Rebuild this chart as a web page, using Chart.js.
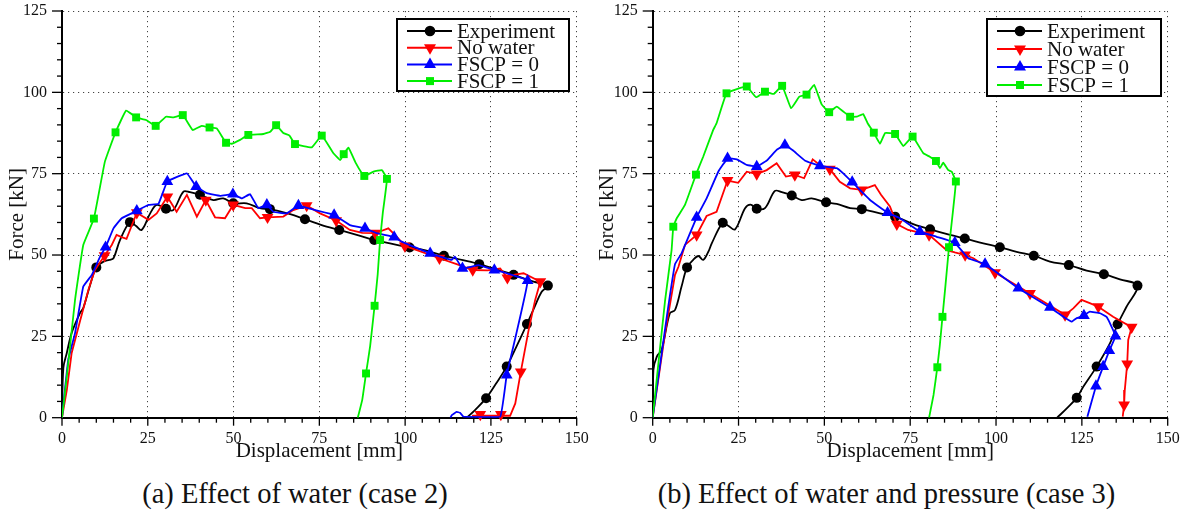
<!DOCTYPE html>
<html>
<head>
<meta charset="utf-8">
<script src="https://cdn.jsdelivr.net/npm/chart.js@4/dist/chart.umd.min.js"></script>
<style>
  html, body { margin: 0; padding: 0; background: #fff; }
  #wrap { position: relative; width: 1183px; height: 512px; overflow: hidden; }
  .pane { position: absolute; top: 0; }
  .cap { position: absolute; top: 480px; line-height: 28px; font-size: 28.5px; text-align: center;
         font-family: "Liberation Serif", "DejaVu Serif", serif; color: #111; white-space: nowrap; }
</style>
</head>
<body>
<div id="wrap">
  <div class="pane" style="left:0"><canvas id="chartA" width="590" height="470"></canvas></div>
  <div class="pane" style="left:590px"><canvas id="chartB" width="593" height="470"></canvas></div>
  <div class="cap" style="left:0;width:590px">(a) Effect of water (case 2)</div>
  <div class="cap" style="left:590px;width:593px">(b) Effect of water and pressure (case 3)</div>
</div>
<script>
// axis ticks
const xTicks = [0, 25, 50, 75, 100, 125, 150];
const yTicks = [0, 25, 50, 75, 100, 125];

const seriesNames = ['Experiment', 'No water', 'FSCP = 0', 'FSCP = 1'];

// ---- case 2 (left) : [displacement mm, force kN]
const expA = [[0,0],[0.4,15.3],[1.4,19.9],[2.8,26],[5.2,32.1],[6.2,33.7],[8.2,40.8],[10,46.2],[12.2,48],[13.8,48.5],[15,49],[16.9,54.6],[19.8,60.1],[21.5,59],[23.2,57.7],[25.7,62.8],[27.6,65.4],[30.3,64.2],[32.4,63.8],[35.4,69.5],[37.3,69.3],[40.2,68.5],[44.1,66.9],[47,67.4],[49.9,65.9],[53.8,65.9],[57.7,64.4],[60.6,64.1],[66.5,62.6],[70.8,61],[75.7,59.2],[80.8,57.7],[86.9,55.9],[91,54.6],[95.6,53.6],[101.3,52.3],[105.3,51.6],[111.3,49.8],[116.5,48.5],[121.6,47.2],[126.5,45.6],[131.6,43.9],[137.4,41.8],[141.6,40.6],[139.8,38.7],[137.5,33.5],[135.5,28.8],[132.5,22],[129.6,15.7],[126.5,10.5],[123.6,6],[120.5,2.5],[118,0]];
const expAMarks = [[10,46.2],[19.8,60.1],[30.3,64.2],[40.2,68.5],[49.9,65.9],[60.6,64.1],[70.8,61],[80.8,57.7],[91,54.6],[101.3,52.3],[111.3,49.8],[121.6,47.2],[131.6,43.9],[141.6,40.6],[135.5,28.8],[129.6,15.7],[123.6,6]];

const noWaterA = [[0,0],[1.4,8.5],[2.8,19.8],[5.2,29.5],[7.7,39.3],[9.6,45.4],[12.4,49.8],[14.5,53.1],[15.9,56.2],[17.4,55.5],[18.8,55],[21.8,63],[25.2,60.8],[27.6,62.8],[30.7,67.9],[33.4,63.3],[36.4,68.5],[39.3,61.8],[41.9,66.9],[44.6,61.6],[47.5,61.3],[49.9,65.4],[53.4,64.4],[55.3,64.4],[57.7,61.3],[59.9,61.6],[64.5,61.8],[67.4,63.8],[71.3,65.2],[75.2,62.8],[79.9,60.6],[83.9,57.7],[87.5,56.8],[91.3,56.7],[95.1,58.2],[97.6,55.6],[99.9,52.8],[103.4,51.5],[110,49],[115,47.2],[119.7,45.4],[124,45.3],[127.7,45.9],[129.8,43],[132,44],[134.5,44.4],[139.4,41.8],[137.9,36.2],[136,27],[133.7,14.1],[132.1,4.4],[130.6,0.6],[127.9,0.6],[121.9,0.6],[119.5,0.6]];
const noWaterAMarks = [[12.4,49.8],[21.8,63],[30.7,67.9],[41.9,66.9],[49.9,65.4],[59.9,61.6],[71.3,65.2],[79.9,60.6],[91.3,56.7],[99.9,52.8],[110,49],[119.7,45.4],[129.8,43],[139.4,41.8],[133.7,14.1],[127.9,1],[121.9,1]];

const fscp0A = [[0,0],[1.8,17.7],[3.8,26],[6.2,40.3],[8.7,43.9],[11.1,49.5],[12.7,52.4],[15,58.2],[17.4,61.3],[21.8,63.6],[25.2,65.4],[28.1,65.7],[30.7,72.6],[36.4,75.1],[39.1,71],[42.2,69],[46.1,68.2],[49.8,68.7],[52.4,67.4],[54.8,68.7],[57.2,64.4],[59.7,65.4],[61.6,63.3],[65.5,62.8],[68.9,65.2],[73.8,63.8],[79.3,62.3],[83.9,59.2],[88.3,58.2],[91.7,56.7],[96.8,55.5],[99,54.1],[102.4,52.6],[107.3,50.5],[113.6,48.5],[114.5,49.5],[116.7,45.9],[121.4,46.9],[126,45.4],[129.6,44.4],[135.7,42.1],[129.6,13.1],[127.7,0.3],[117,0.3],[116,1.5],[115,1.8],[113.6,0.8],[113.2,0]];
const fscp0AMarks = [[12.7,52.4],[21.8,63.6],[30.7,72.6],[39.1,71],[49.8,68.7],[59.7,65.4],[68.9,65.2],[79.3,62.3],[88.3,58.2],[96.8,55.5],[107.3,50.5],[116.7,45.9],[126,45.4],[135.7,42.1],[129.6,13.1]];

const fscp1A = [[0,0],[1.4,12.6],[3.8,36.2],[6.2,53.1],[9.3,61.2],[12.5,78.7],[15.6,87.7],[18.7,94.4],[21.6,92.3],[24.5,91.5],[27.3,89.7],[30.3,92.5],[32.5,92.3],[35.2,93],[38.1,88.4],[40.7,89.7],[43,89.2],[45.1,88.9],[47.8,84.5],[49.5,84.2],[51.9,85.4],[54.3,86.9],[58.7,87.2],[60.7,87.9],[62.4,89.9],[64.5,87.5],[66.3,86.7],[67.9,84.1],[72.8,83.1],[75.7,86.7],[79.1,81.3],[81.1,79.2],[82.1,81],[83.5,83],[85.6,78.3],[87.4,75.1],[88.1,74.3],[90.8,75.6],[93.2,76.1],[94.7,73.4],[93.5,63],[92.7,54.6],[92,44],[91.1,34.4],[89.8,22],[88.6,13.6],[87.5,5.5],[86.2,0]];
const fscp1AMarks = [[9.3,61.2],[15.6,87.7],[21.6,92.3],[27.3,89.7],[35.2,93],[43,89.2],[47.8,84.5],[54.3,86.9],[62.4,89.9],[67.9,84.1],[75.7,86.7],[82.1,81],[88.1,74.3],[94.7,73.4],[92.7,54.6],[91.1,34.4],[88.6,13.6]];

// ---- case 3 (right)
const expB = [[0,0],[0.2,14.7],[1.2,18.8],[2.6,20.8],[5,32.1],[6.5,33.1],[8.4,40.3],[10,46.2],[11.8,48.5],[13.3,49.7],[14.7,48.5],[16.2,51],[17.2,53.6],[20.4,59.9],[22,59],[24,57.9],[26.9,64.4],[28.5,65.5],[30.3,64.2],[32.7,64.4],[35.6,69.7],[37.6,69.3],[40.5,68.3],[43.4,66.9],[46.3,67.4],[50.5,66.2],[53.6,65.7],[57.5,64.4],[60.9,64.1],[66.2,62.8],[70.6,61.8],[75.9,59.5],[80.8,57.9],[86.6,56.2],[90.9,55.1],[96.3,53.6],[101.1,52.4],[106,51],[111,49.8],[115.7,48],[121.2,46.9],[126.4,45.2],[131.4,44.1],[136.1,42.5],[141.2,40.6],[138,34.1],[135.4,28.7],[133.2,22.9],[129.3,15.7],[125.4,9.5],[123.5,6.1],[120.6,2.9],[117.8,0]];
const expBMarks = [[10,46.2],[20.4,59.9],[30.3,64.2],[40.5,68.3],[50.5,66.2],[60.9,64.1],[70.6,61.8],[80.8,57.9],[90.9,55.1],[101.1,52.4],[111,49.8],[121.2,46.9],[131.4,44.1],[141.2,40.6],[135.4,28.7],[129.3,15.7],[123.5,6.1]];

const noWaterB = [[0,0],[3.6,25.9],[6.5,43.9],[7.5,46.4],[9.4,53.1],[12.8,56.2],[15.7,62],[18.6,63.3],[21.8,72.9],[24.9,72.2],[27.4,75.6],[30.3,74.9],[33.2,76.1],[36.1,78.2],[38.8,74.1],[41.4,74.6],[44.1,73.6],[46.6,79.4],[49.2,77.2],[51.6,76.4],[54.5,72.5],[57.5,70.5],[60.9,70],[64.7,71.5],[66.5,68.5],[69.1,64.9],[71.1,59.5],[74.4,57.7],[80.5,56.2],[85.6,51.5],[88,50.8],[91,50],[93.4,49],[99.7,44.6],[109.9,38.2],[120.1,31.6],[122.5,33.6],[124.9,36.2],[127.3,35.2],[129.8,34.1],[134.1,31],[139.5,27.8],[138.5,23.9],[138.2,16.5],[137.5,8.5],[137.3,3.9],[136.9,0.3]];
const noWaterBMarks = [[12.8,56.2],[21.8,72.9],[30.3,74.9],[41.4,74.6],[51.6,76.4],[60.9,70],[71.1,59.5],[80.5,56.2],[91,50],[99.7,44.6],[109.9,38.2],[120.1,31.6],[129.8,34.1],[139.5,27.8],[138.2,16.5],[137.3,3.9]];

const fscp0B = [[0,0],[4.1,31],[6.5,47.2],[8.4,50.5],[12.8,61.6],[15.7,67.4],[19.1,75.6],[21.8,79.7],[24.5,79.4],[27.4,77.7],[30.3,77.2],[33.2,79],[36.1,82.3],[38.5,83.8],[40.9,82.1],[44.4,79],[48.7,77.4],[53.6,76.7],[55.5,75.1],[58.1,72.4],[63.3,66.9],[68.4,63],[72,61.3],[77.8,57.2],[82.7,55.6],[88,53.8],[91.9,49],[96.8,47.2],[106.5,39.8],[115.7,33.9],[120.1,30.7],[122,29.5],[123.5,30.6],[125.6,31.4],[127.3,32.6],[130.3,32.1],[132.2,31],[133.2,29],[134.8,25.1],[133,20.6],[131.2,15.7],[129.1,9.7],[126.6,0.3]];
const fscp0BMarks = [[12.8,61.6],[21.8,79.7],[30.3,77.2],[38.5,83.8],[48.7,77.4],[58.1,72.4],[68.4,63],[77.8,57.2],[88,53.8],[96.8,47.2],[106.5,39.8],[115.7,33.9],[125.6,31.4],[134.8,25.1],[133,20.6],[131.2,15.7],[129.1,9.7]];

const fscp1B = [[0,0],[3.6,36],[5.5,51.5],[6,58.7],[7,61.3],[9.4,65.4],[12.6,74.7],[14.7,80.2],[17.6,88.4],[18.6,90.5],[21.5,99.7],[24.5,101],[27.4,101.8],[30.1,98.5],[32.7,100.2],[35.3,99.5],[37.7,102],[40.3,95.1],[42.7,98.7],[44.8,99.3],[47,102.3],[49.2,96.3],[51.4,93.9],[53.6,95.6],[55.5,94.1],[57.5,92.5],[59.4,92.5],[61.3,93.3],[62.6,90.5],[64.4,87.6],[66.2,84.2],[67.7,87.5],[70.6,87.2],[73,83.5],[75.7,86.4],[78.8,81.3],[80.7,80.2],[82.5,78.9],[83.7,76.7],[84.6,78.4],[86.1,76.1],[87.1,75.6],[88.3,72.6],[87.3,62],[86.3,52.4],[85.3,41],[84.4,31],[83.6,22],[82.9,15.5],[81.8,7],[80.5,0]];
const fscp1BMarks = [[6,58.7],[12.6,74.7],[21.5,99.7],[27.4,101.8],[32.7,100.2],[37.7,102],[44.8,99.3],[51.4,93.9],[57.5,92.5],[64.4,87.6],[70.6,87.2],[75.7,86.4],[82.5,78.9],[88.3,72.6],[86.3,52.4],[84.4,31],[82.9,15.5]];

const FONT = '"Liberation Serif", "DejaVu Serif", serif';
const colors = ['#000000', '#ff0000', '#0000ff', '#00ee00'];
const shapes = ['circle', 'down', 'up', 'rect'];
const tensions = [0.35, 0, 0.08, 0.1];

const toXY = (arr) => arr.map(p => ({ x: p[0], y: p[1] }));

function drawMarker(ctx, shape, x, y, color) {
  ctx.fillStyle = color;
  ctx.beginPath();
  if (shape === 'circle') {
    ctx.arc(x, y, 5.3, 0, Math.PI * 2);
  } else if (shape === 'rect') {
    ctx.rect(x - 4, y - 4, 8, 8);
  } else {
    const d = shape === 'down' ? 1 : -1;
    ctx.moveTo(x, y + d * 7);
    ctx.lineTo(x - 6, y - d * 3.5);
    ctx.lineTo(x + 6, y - d * 3.5);
    ctx.closePath();
  }
  ctx.fill();
}

// minor + major tick marks on the outside of the axes
const tickMarks = {
  id: 'tickMarks',
  afterDraw(chart) {
    const { ctx, scales: { x, y } } = chart;
    ctx.save();
    ctx.strokeStyle = '#000';
    ctx.lineWidth = 1.3;
    for (let v = x.min; v <= x.max; v += 5) {
      const p = x.getPixelForValue(v);
      const len = v % 25 === 0 ? 8 : 5;
      ctx.beginPath(); ctx.moveTo(p, x.top); ctx.lineTo(p, x.top + len); ctx.stroke();
    }
    for (let v = y.min; v <= y.max; v += 5) {
      const p = y.getPixelForValue(v);
      const len = v % 25 === 0 ? 10 : 5;
      ctx.beginPath(); ctx.moveTo(y.right, p); ctx.lineTo(y.right - len, p); ctx.stroke();
    }
    ctx.restore();
  }
};

// boxed legend with line + marker samples
const boxLegend = {
  id: 'boxLegend',
  afterDraw(chart, args, opts) {
    const ctx = chart.ctx;
    ctx.save();
    ctx.fillStyle = '#fff';
    ctx.fillRect(opts.x, opts.y, opts.w, opts.h);
    ctx.lineWidth = 2;
    ctx.strokeStyle = '#000';
    ctx.strokeRect(opts.x, opts.y, opts.w, opts.h);
    ctx.font = '21px ' + FONT;
    ctx.textBaseline = 'middle';
    seriesNames.forEach((name, i) => {
      const yy = opts.y + opts.first + i * opts.gap;
      ctx.strokeStyle = colors[i];
      ctx.lineWidth = 2;
      ctx.beginPath(); ctx.moveTo(opts.x + 10, yy); ctx.lineTo(opts.x + 55, yy); ctx.stroke();
      drawMarker(ctx, shapes[i], opts.x + 33, yy, colors[i]);
      ctx.fillStyle = '#111';
      ctx.fillText(name, opts.x + 60, yy + 1);
    });
    ctx.restore();
  }
};

function makeDatasets(lines, marks) {
  const sets = [];
  lines.forEach((line, i) => {
    sets.push({
      label: seriesNames[i],
      data: toXY(line),
      showLine: true,
      borderColor: colors[i],
      borderWidth: 1.8,
      pointRadius: 0,
      tension: tensions[i],
      order: 8 - 2 * i
    });
    sets.push({
      label: seriesNames[i] + ' marks',
      data: toXY(marks[i]),
      showLine: false,
      pointStyle: shapes[i] === 'rect' ? 'rect' : (shapes[i] === 'circle' ? 'circle' : 'triangle'),
      rotation: shapes[i] === 'down' ? 180 : 0,
      pointRadius: shapes[i] === 'circle' ? 5 : (shapes[i] === 'rect' ? 5.6 : 6.8),
      backgroundColor: colors[i],
      borderColor: colors[i],
      borderWidth: 0,
      clip: false,
      order: 7 - 2 * i
    });
  });
  return sets;
}

// scale boxes sized by hand so the plot area sits where the original has it
function noOverflow(s) {
  s.paddingTop = 0; s.paddingBottom = 0; s.paddingLeft = 0; s.paddingRight = 0;
}

function makeChart(id, lines, marks, yAxisWidth, pad, legendOpts) {
  const axisBottomH = 52.3;
  return new Chart(document.getElementById(id), {
    type: 'scatter',
    data: { datasets: makeDatasets(lines, marks) },
    options: {
      responsive: false,
      animation: false,
      devicePixelRatio: 1,
      layout: { autoPadding: false, padding: { left: 0, top: pad.top, right: pad.right, bottom: 0 } },
      plugins: {
        legend: { display: false },
        tooltip: { enabled: false },
        boxLegend: legendOpts
      },
      scales: {
        x: {
          type: 'linear',
          min: xTicks[0],
          max: xTicks[xTicks.length - 1],
          afterFit: (s) => { s.height = axisBottomH; noOverflow(s); },
          ticks: { stepSize: xTicks[1] - xTicks[0], color: '#111', padding: 11, font: { family: FONT, size: 16 } },
          grid: { color: '#444', lineWidth: 1, drawTicks: false },
          border: { display: true, color: '#000', width: 2, dash: [1.2, 3.8] },
          title: { display: true, text: 'Displacement [mm]', color: '#111',
                   font: { family: FONT, size: 21 }, padding: { top: 0, bottom: 6 } }
        },
        y: {
          type: 'linear',
          min: yTicks[0],
          max: yTicks[yTicks.length - 1],
          afterFit: (s) => { s.width = yAxisWidth; noOverflow(s); },
          ticks: { stepSize: yTicks[1] - yTicks[0], color: '#111', padding: 15, font: { family: FONT, size: 16 } },
          grid: { color: '#444', lineWidth: 1, drawTicks: false },
          border: { display: true, color: '#000', width: 2, dash: [1.2, 3.8] },
          title: { display: true, text: 'Force [kN]', color: '#111',
                   font: { family: FONT, size: 21 }, padding: { top: 5, bottom: 0 } }
        }
      }
    },
    plugins: [tickMarks, boxLegend]
  });
}

function build() {
  makeChart('chartA',
    [expA, noWaterA, fscp0A, fscp1A],
    [expAMarks, noWaterAMarks, fscp0AMarks, fscp1AMarks],
    62, { top: 11, right: 13.3 },
    { x: 397, y: 19, w: 172, h: 72, first: 12, gap: 16.7 });
  makeChart('chartB',
    [expB, noWaterB, fscp0B, fscp1B],
    [expBMarks, noWaterBMarks, fscp0BMarks, fscp1BMarks],
    62.7, { top: 11, right: 15.3 },
    { x: 397, y: 19, w: 174, h: 77, first: 12, gap: 18 });
}

let built = false;
const go = () => { if (!built) { built = true; build(); } };
Promise.all([
  document.fonts.load('16px "Liberation Serif"'),
  document.fonts.load('21px "Liberation Serif"')
]).then(go, go);
setTimeout(go, 1500);
</script>
</body>
</html>
